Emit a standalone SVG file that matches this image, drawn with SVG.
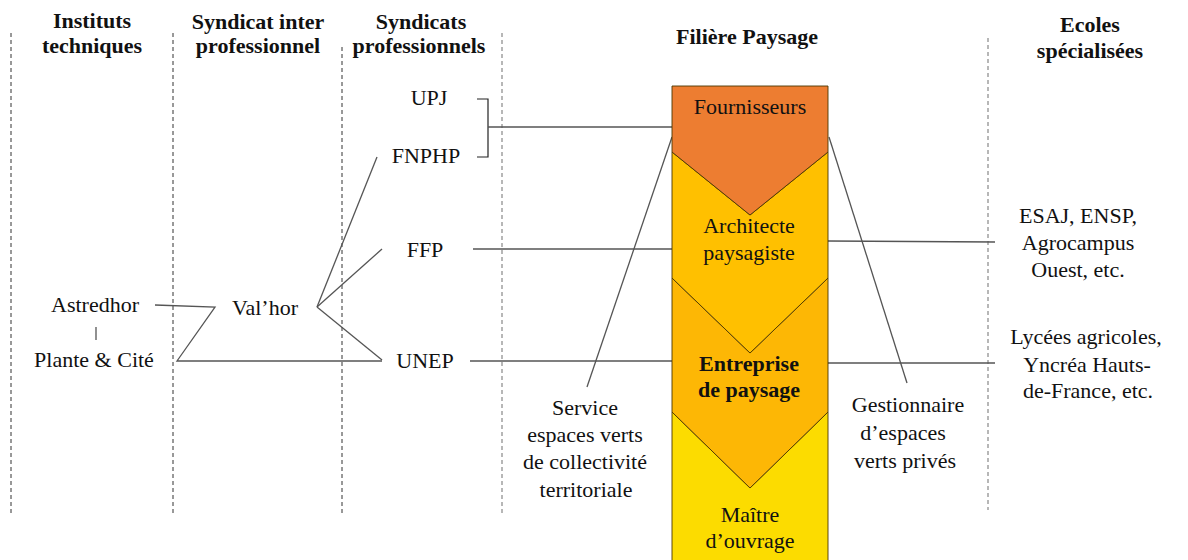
<svg xmlns="http://www.w3.org/2000/svg" width="1188" height="560" viewBox="0 0 1188 560">
<style>
text{font-family:"Liberation Serif","Times New Roman",serif;font-size:22px;fill:#111;text-anchor:middle}
.h{font-weight:bold}
.b{font-weight:bold}
.dash{stroke:#333;stroke-width:1;stroke-dasharray:4 3;fill:none}
.dashl{stroke:#888;stroke-width:1.2;stroke-dasharray:4 3;fill:none}
.ln{stroke:#555;stroke-width:1.3;fill:none}
.br{stroke:#222;stroke-width:1.2;fill:none}
.chev{stroke:#4a3500;stroke-width:0.9}
</style>
<rect width="1188" height="560" fill="#fff"/>
<g id="separators">
<line class="dash" x1="11" y1="33" x2="11" y2="515"/>
<line class="dash" x1="173" y1="33" x2="173" y2="515"/>
<line class="dash" x1="342" y1="47" x2="342" y2="515"/>
<line class="dashl" x1="502" y1="33" x2="502" y2="515"/>
<line class="dashl" x1="988" y1="38" x2="988" y2="510"/>
</g>
<g id="headers">
<text class="h" x="92" y="28">Instituts</text>
<text class="h" x="92" y="53">techniques</text>
<text class="h" x="258" y="29">Syndicat inter</text>
<text class="h" x="258" y="53">professionnel</text>
<text class="h" x="421" y="29">Syndicats</text>
<text class="h" x="419" y="53">professionnels</text>
<text class="h" x="747" y="44">Filière Paysage</text>
<text class="h" x="1090" y="32">Ecoles</text>
<text class="h" x="1090" y="58">spécialisées</text>
</g>
<g id="connectors">
<polyline class="br" points="477,99 488,99 488,157 477,157"/>
<line class="ln" x1="488" y1="127" x2="672" y2="127"/>
<line class="ln" x1="377" y1="157" x2="317" y2="307"/>
<line class="ln" x1="382" y1="249" x2="317" y2="307"/>
<line class="ln" x1="317" y1="307" x2="382" y2="360"/>
<polyline class="ln" points="155,305 215,307 177,361 382,361"/>
<line class="ln" x1="96" y1="327" x2="96" y2="340"/>
<line class="ln" x1="473" y1="249" x2="672" y2="249"/>
<line class="ln" x1="470" y1="361" x2="672" y2="361"/>
<line class="ln" x1="828" y1="241" x2="995" y2="242"/>
<line class="ln" x1="828" y1="363" x2="995" y2="363"/>
<line class="ln" x1="672" y1="137" x2="587" y2="387"/>
<line class="ln" x1="829" y1="137" x2="907" y2="383"/>
</g>
<g id="maitre">
<polygon class="chev" fill="#FCDC00" points="672,412 750,488 828,412 828,562 672,562"/>
<text x="750" y="522">Maître</text>
<text x="750" y="548">d’ouvrage</text>
</g>
<g id="entreprise">
<polygon class="chev" fill="#FDB705" points="672,278 750,353 828,278 828,412 750,488 672,412"/>
<text class="b" x="749" y="371">Entreprise</text>
<text class="b" x="749" y="397">de paysage</text>
</g>
<g id="architecte">
<polygon class="chev" fill="#FFC000" points="672,152 750,215 828,152 828,278 750,353 672,278"/>
<text x="749" y="233">Architecte</text>
<text x="749" y="260">paysagiste</text>
</g>
<g id="fournisseurs">
<polygon class="chev" stroke="#222" fill="#ED7D31" points="672,86 828,86 828,152 750,215 672,152"/>
<text x="750" y="114">Fournisseurs</text>
</g>
<g id="upj"><text x="429" y="105">UPJ</text></g>
<g id="fnphp"><text x="426" y="163">FNPHP</text></g>
<g id="ffp"><text x="425" y="257">FFP</text></g>
<g id="unep"><text x="425" y="368">UNEP</text></g>
<g id="astredhor"><text x="95" y="312">Astredhor</text></g>
<g id="plante"><text x="94" y="367">Plante &amp; Cité</text></g>
<g id="valhor"><text x="265" y="315">Val’hor</text></g>
<g id="service">
<text x="585" y="415">Service</text>
<text x="585" y="442">espaces verts</text>
<text x="585" y="469">de collectivité</text>
<text x="586" y="497">territoriale</text>
</g>
<g id="gestionnaire">
<text x="908" y="412">Gestionnaire</text>
<text x="903" y="440">d’espaces</text>
<text x="905" y="468">verts privés</text>
</g>
<g id="ecoles1">
<text x="1078" y="223">ESAJ, ENSP,</text>
<text x="1078" y="250">Agrocampus</text>
<text x="1078" y="277">Ouest, etc.</text>
</g>
<g id="ecoles2">
<text x="1086" y="344">Lycées agricoles,</text>
<text x="1087" y="372">Yncréa Hauts-</text>
<text x="1088" y="398">de-France, etc.</text>
</g>
</svg>
